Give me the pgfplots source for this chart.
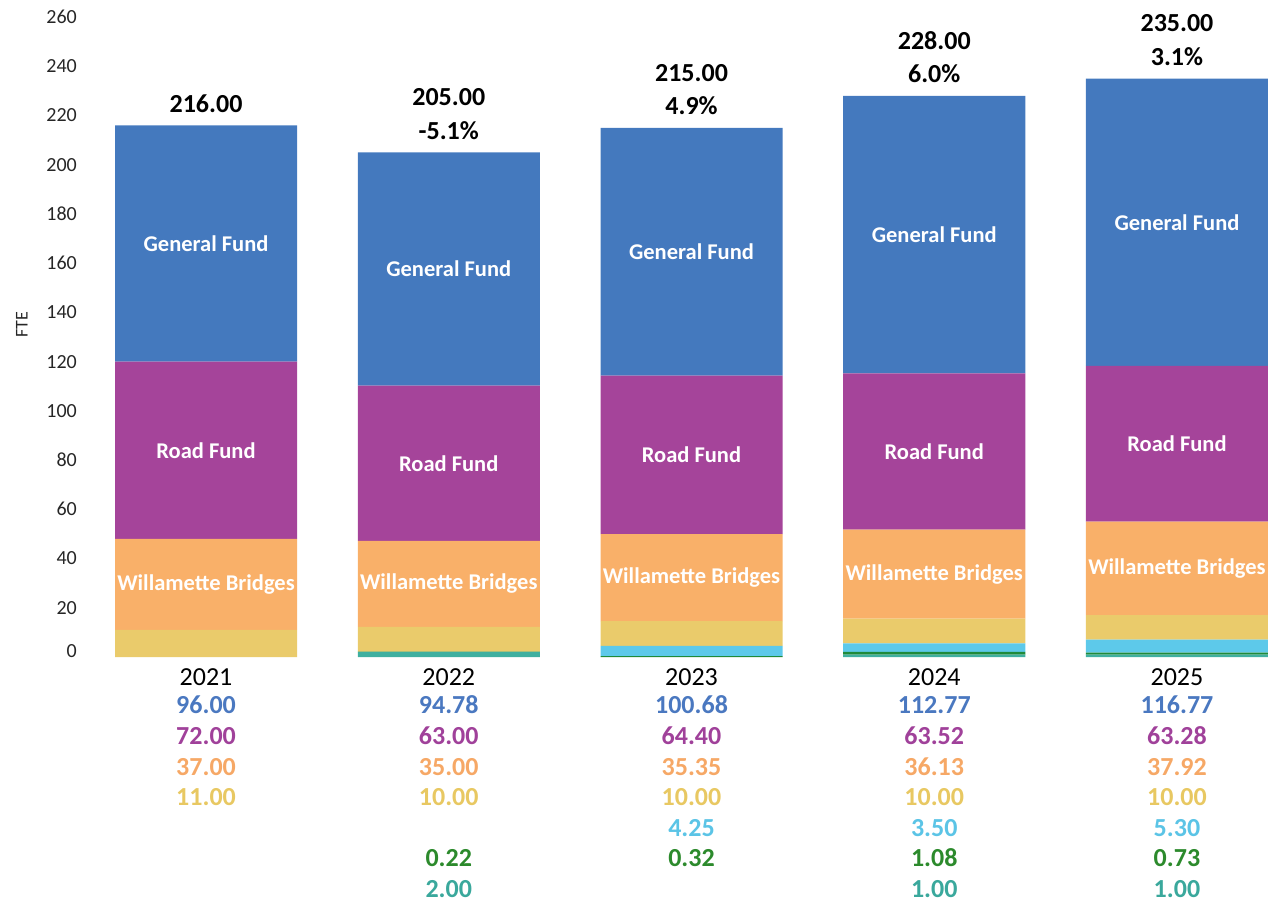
\documentclass[border=0pt]{standalone}
\usepackage{pgfplots}
\pgfplotsset{compat=1.18}
\usepackage{fontspec}
\setmainfont{Carlito}
\definecolor{gf}{HTML}{4479BE}
\definecolor{rf}{HTML}{A5449A}
\definecolor{wb}{HTML}{F9B069}
\definecolor{yl}{HTML}{EACB6B}
\definecolor{cy}{HTML}{5DC9EA}
\definecolor{gr}{HTML}{1F8A3A}
\definecolor{tl}{HTML}{3FB0A0}
\definecolor{gfT}{HTML}{4A78C0}
\definecolor{rfT}{HTML}{A0419A}
\definecolor{wbT}{HTML}{F6A866}
\definecolor{ylT}{HTML}{E8C862}
\definecolor{cyT}{HTML}{5BC4E6}
\definecolor{grT}{HTML}{2C8A2C}
\definecolor{tlT}{HTML}{3AA89C}
\newcommand{\valfont}{\fontsize{26}{30}\selectfont\bfseries}
\newcommand{\inlfont}{\fontsize{22.5}{26}\selectfont\bfseries}
\newcommand{\val}[4]{\node[font=\valfont, text=#3, inner sep=0pt, anchor=center, yshift=-#2pt] at (axis cs:#1,0) {#4};}
\pgfplotsset{
  inlabels/.style={
    point meta=explicit symbolic,
    nodes near coords,
    every node near coord/.append style={font=\inlfont, text=white, inner sep=0pt, anchor=center},
  }
}
\begin{document}
\begin{tikzpicture}
\useasboundingbox (0,0) rectangle (1268pt,902pt);
\begin{axis}[
  at={(115pt,245pt)}, anchor=south west, scale only axis,
  width=1153pt, height=640pt,
  xmin=-0.375, xmax=4.375, ymin=0, ymax=260,
  ybar stacked, bar width=182pt,
  clip=false,
  axis line style={draw=none},
  tick style={draw=none},
  xtick={0,1,2,3,4},
  xticklabels={2021,2022,2023,2024,2025},
  xticklabel style={font=\fontsize{26}{30}\selectfont, text=black, inner sep=0pt, anchor=center, yshift=-20pt},
  ytick={0,20,...,260},
  yticklabels={\raisebox{12pt}{0},20,40,60,80,100,120,140,160,180,200,220,240,260},
  yticklabel style={font=\fontsize{20}{22}\selectfont, text=black!85, inner sep=0pt, anchor=east, xshift=-38pt},
  /pgf/number format/assume math mode=true,
  ylabel={FTE},
  ylabel style={at={(axis description cs:-0.0807,0.519)}, anchor=center, font=\fontsize{18}{20}\selectfont, text=black!85},
]
\addplot[fill=tl, draw=none] coordinates {(0,0) (1,2.00) (2,0) (3,1.00) (4,1.00)};
\addplot[fill=gr, draw=none] coordinates {(0,0) (1,0.22) (2,0.32) (3,1.08) (4,0.73)};
\addplot[fill=cy, draw=none] coordinates {(0,0) (1,0) (2,4.25) (3,3.50) (4,5.30)};
\addplot[fill=yl, draw=none] coordinates {(0,11.00) (1,10.00) (2,10.00) (3,10.00) (4,10.00)};
\addplot[fill=wb, draw=none, inlabels] coordinates {(0,37.00) [Willamette Bridges] (1,35.00) [Willamette Bridges] (2,35.35) [Willamette Bridges] (3,36.13) [Willamette Bridges] (4,37.92) [Willamette Bridges]};
\addplot[fill=rf, draw=none, inlabels] coordinates {(0,72.00) [Road Fund] (1,63.00) [Road Fund] (2,64.40) [Road Fund] (3,63.52) [Road Fund] (4,63.28) [Road Fund]};
\addplot[fill=gf, draw=none, inlabels] coordinates {(0,96.00) [General Fund] (1,94.78) [General Fund] (2,100.68) [General Fund] (3,112.77) [General Fund] (4,116.77) [General Fund]};

% totals above bars
\node[font=\valfont, inner sep=0pt, anchor=center, yshift=22pt] at (axis cs:0,216) {216.00};
\node[font=\valfont, inner sep=0pt, anchor=center, yshift=55pt] at (axis cs:1,205) {205.00};
\node[font=\valfont, inner sep=0pt, anchor=center, yshift=22pt] at (axis cs:1,205) {-5.1\%};
\node[font=\valfont, inner sep=0pt, anchor=center, yshift=55pt] at (axis cs:2,215) {215.00};
\node[font=\valfont, inner sep=0pt, anchor=center, yshift=22pt] at (axis cs:2,215) {4.9\%};
\node[font=\valfont, inner sep=0pt, anchor=center, yshift=55pt] at (axis cs:3,228) {228.00};
\node[font=\valfont, inner sep=0pt, anchor=center, yshift=22pt] at (axis cs:3,228) {6.0\%};
\node[font=\valfont, inner sep=0pt, anchor=center, yshift=55pt] at (axis cs:4,235) {235.00};
\node[font=\valfont, inner sep=0pt, anchor=center, yshift=22pt] at (axis cs:4,235) {3.1\%};

% value table below
\val{0}{48}{gfT}{96.00}
\val{1}{48}{gfT}{94.78}
\val{2}{48}{gfT}{100.68}
\val{3}{48}{gfT}{112.77}
\val{4}{48}{gfT}{116.77}
\val{0}{79}{rfT}{72.00}
\val{1}{79}{rfT}{63.00}
\val{2}{79}{rfT}{64.40}
\val{3}{79}{rfT}{63.52}
\val{4}{79}{rfT}{63.28}
\val{0}{110}{wbT}{37.00}
\val{1}{110}{wbT}{35.00}
\val{2}{110}{wbT}{35.35}
\val{3}{110}{wbT}{36.13}
\val{4}{110}{wbT}{37.92}
\val{0}{140}{ylT}{11.00}
\val{1}{140}{ylT}{10.00}
\val{2}{140}{ylT}{10.00}
\val{3}{140}{ylT}{10.00}
\val{4}{140}{ylT}{10.00}
\val{2}{171}{cyT}{4.25}
\val{3}{171}{cyT}{3.50}
\val{4}{171}{cyT}{5.30}
\val{1}{201}{grT}{0.22}
\val{2}{201}{grT}{0.32}
\val{3}{201}{grT}{1.08}
\val{4}{201}{grT}{0.73}
\val{1}{232}{tlT}{2.00}
\val{3}{232}{tlT}{1.00}
\val{4}{232}{tlT}{1.00}
\end{axis}
\end{tikzpicture}
\end{document}
